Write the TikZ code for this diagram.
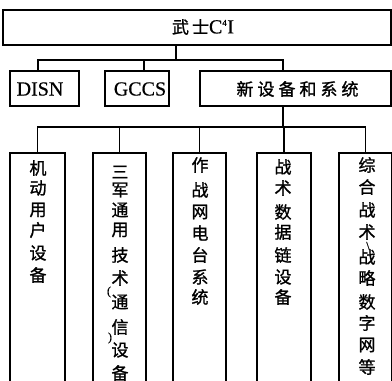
\documentclass[tikz,border=0pt]{standalone}
\usepackage{fontspec}
\setmainfont[FakeBold=0.6]{Liberation Serif}
\newfontfamily\cjk[FakeBold=1.2]{Noto Sans CJK SC}
\begin{document}
\begin{tikzpicture}[x=1pt,y=-1pt,
  box/.style={draw, line width=1.3pt, inner sep=0pt},
  ln/.style={line width=1.3pt},
  ch/.style={font=\cjk\fontsize{17}{17}\selectfont, inner sep=0pt},
  lat/.style={font=\fontsize{20}{20}\selectfont, inner sep=0pt},
  sm/.style={font=\fontsize{12}{12}\selectfont, inner sep=0pt}]
\clip (0,0) rectangle (392,381);
% boxes
\node[box, minimum width=388pt, minimum height=35pt] (top) at (197,27.5) {};
\node[box, minimum width=69pt, minimum height=35pt] (disn) at (44.5,88.5) {};
\node[box, minimum width=64pt, minimum height=35pt] (gccs) at (137,88.5) {};
\node[box, minimum width=191pt, minimum height=35pt] (new) at (295.5,88.5) {};
\node[box, minimum width=55pt, minimum height=247pt] (c1) at (37.5,276.5) {};
\node[box, minimum width=53pt, minimum height=247pt] (c2) at (119.5,276.5) {};
\node[box, minimum width=53pt, minimum height=247pt] (c3) at (199.5,276.5) {};
\node[box, minimum width=54pt, minimum height=247pt] (c4) at (284,276.5) {};
\node[box, minimum width=53pt, minimum height=247pt] (c5) at (365.5,276.5) {};
% texts
\node[lat] (title) at (203,27) {{\cjk\fontsize{17}{17}\selectfont 武\hspace{3pt}士}C\textsuperscript{\fontsize{9}{9}\selectfont 4}I};
\node[lat] (tdisn) at (40,89) {DISN};
\node[lat] (tgccs) at (140,89) {GCCS};
\node[ch] (tnew) at (297.5,89) {新\hspace{4pt}设\hspace{4pt}备\hspace{4pt}和\hspace{4pt}系\hspace{4pt}统};
\foreach \c/\y [count=\i] in {机/168,动/188,用/210,户/230,设/253,备/275}
  \node[ch] (ta-\i) at (38,\y) {\c};
\foreach \c/\y [count=\i] in {三/172,军/190,通/210,用/230,技/255,术/278,通/302,信/327,设/350,备/373}
  \node[ch] (tb-\i) at (120,\y) {\c};
\node[sm] (lpar) at (109,292) {(};
\node[sm] (rpar) at (110,338) {)};
\foreach \c/\y [count=\i] in {作/165,战/190,网/212,电/233,台/255,系/277,统/297}
  \node[ch] (tc-\i) at (200,\y) {\c};
\foreach \c/\y [count=\i] in {战/167,术/188,数/212,据/232,链/255,设/277,备/297}
  \node[ch] (td-\i) at (283,\y) {\c};
\foreach \c/\y [count=\i] in {综/165,合/187,战/210,术/232,战/257,略/278,数/302,字/323,网/345,等/367}
  \node[ch] (te-\i) at (367,\y) {\c};
\node[sm] (slash) at (368,246) {\textbackslash};
% connectors
\coordinate (j0) at (176,60);
\coordinate (b1) at (38,60);
\coordinate (b2) at (144,60);
\coordinate (b3) at (283,60);
\draw[ln] (j0 |- top.south) -- (j0);
\draw[ln] (b1 |- disn.north) -- (b1) -- (b3) -- (b3 |- new.north);
\draw[ln] (b2) -- (b2 |- gccs.north);
\coordinate (k0) at (283,127);
\draw[ln] (k0 |- new.south) -- (k0);
\draw[ln] (c1.north) -- (c1.north |- k0) -- (c5.north |- k0) -- (c5.north);
\draw[ln] (c2.north) -- (c2.north |- k0);
\draw[ln] (c3.north) -- (c3.north |- k0);
\draw[ln] (c4.north) -- (c4.north |- k0);
\end{tikzpicture}
\end{document}
